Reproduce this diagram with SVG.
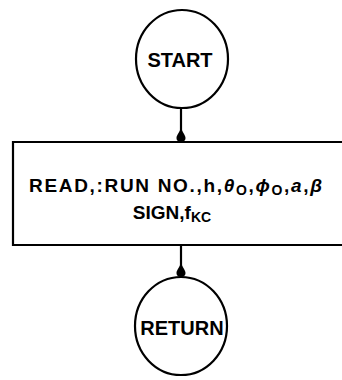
<svg xmlns="http://www.w3.org/2000/svg" width="342" height="380" viewBox="0 0 342 380">
<defs>
<style>
.ln{fill:none;stroke:#000;stroke-width:2.2}
.t{font-family:"Liberation Sans",Arial,sans-serif;font-weight:bold;fill:#000}
</style>
<marker id="ah" markerWidth="16" markerHeight="12" refX="15" refY="6" orient="auto" markerUnits="userSpaceOnUse" viewBox="0 0 16 12">
<path d="M0,6 C5,5 8,1.5 11,1.5 C14,1.5 15,4 15,6 C15,8 14,10.5 11,10.5 C8,10.5 5,7 0,6 Z" fill="#000"/>
</marker>
</defs>
<rect width="342" height="380" fill="#fff"/>
<g id="connectors">
<line class="ln" x1="181" y1="108" x2="181" y2="142" marker-end="url(#ah)"/>
<line class="ln" x1="181" y1="245" x2="181" y2="277" marker-end="url(#ah)"/>
</g>
<g id="start">
<ellipse class="ln" cx="182" cy="59" rx="46" ry="49"/>
<text class="t" x="180" y="67" font-size="20" text-anchor="middle">START</text>
</g>
<g id="read">
<path class="ln" d="M345,142 H13 V245 H345"/>
<text class="t" x="29" y="192" font-size="19" textLength="293" lengthAdjust="spacing">READ,:RUN NO.,h,<tspan font-style="italic">θ</tspan><tspan font-size="14" dy="3">O</tspan><tspan dy="-3">,</tspan><tspan font-style="italic">ϕ</tspan><tspan font-size="14" dy="3">O</tspan><tspan dy="-3">,</tspan><tspan font-style="italic">a</tspan>,<tspan font-style="italic">β</tspan></text>
<text class="t" x="172" y="219" font-size="19" text-anchor="middle">SIGN,f<tspan font-size="14" dy="3">KC</tspan></text>
</g>
<g id="return">
<ellipse class="ln" cx="181" cy="326" rx="46" ry="49"/>
<text class="t" x="182" y="335" font-size="20" text-anchor="middle">RETURN</text>
</g>
</svg>
